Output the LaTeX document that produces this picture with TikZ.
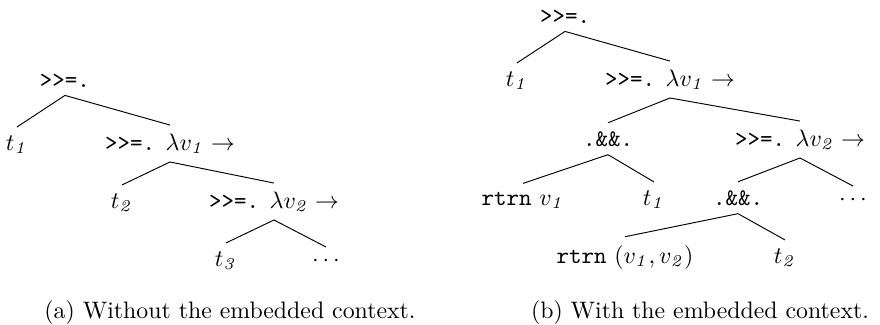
\documentclass[tikz,border=0pt]{standalone}
\usepackage{tikz}
\usetikzlibrary{positioning}

\newcommand{\bind}{\texttt{>>=.}}
\newcommand{\both}{\texttt{.\&\&.}}
\newcommand{\rtrn}{\texttt{rtrn}}
\newcommand{\lam}[1]{$\lambda v_{\mathit{#1}} \rightarrow$}

\begin{document}
\begin{tikzpicture}[
    x=0.42pt, y=-0.42pt,
    term/.style={anchor=base},
    branch/.style={draw=black, line width=0.4pt},
    caption/.style={anchor=base}
]
\useasboundingbox (0,0) rectangle (880,325);

% (a) without the embedded context
\node[term] (a0) at (65,87) {\bind};
\node[term] (a1) at (17,150) {$t_{\mathit{1}}$};
\node[term] (a2) at (170,150) {\bind{} \lam{1}};
\node[term] (a3) at (122,208) {$t_{\mathit{2}}$};
\node[term] (a4) at (274,208) {\bind{} \lam{2}};
\node[term] (a5) at (226,266) {$t_{\mathit{3}}$};
\node[term] (a6) at (326,266) {$\cdots$};

\draw[branch] (a0.south) -- (a1.north);
\draw[branch] (a0.south) -- (a2.north);
\draw[branch] (a2.south) -- (a3.north);
\draw[branch] (a2.south) -- (a4.north);
\draw[branch] (a4.south) -- (a5.north);
\draw[branch] (a4.south) -- (a6.north);

% (b) with the embedded context
\node[term] (b0) at (565,23) {\bind};
\node[term] (b1) at (517,86) {$t_{\mathit{1}}$};
\node[term] (b2) at (670,86) {\bind{} \lam{1}};
\node[term] (b3) at (608,146) {\both};
\node[term] (b4) at (800,146) {\bind{} \lam{2}};
\node[term] (b5) at (523,205) {\rtrn{} $v_{\mathit{1}}$};
\node[term] (b6) at (654,205) {$t_{\mathit{1}}$};
\node[term] (b7) at (738,205) {\both};
\node[term] (b8) at (853,205) {$\cdots$};
\node[term] (b9) at (625,263) {\rtrn{} $(v_{\mathit{1}}, v_{\mathit{2}})$};
\node[term] (b10) at (785,263) {$t_{\mathit{2}}$};

\draw[branch] (b0.south) -- (b1.north);
\draw[branch] (b0.south) -- (b2.north);
\draw[branch] (b2.south) -- (b3.north);
\draw[branch] (b2.south) -- (b4.north);
\draw[branch] (b3.south) -- (b5.north);
\draw[branch] (b3.south) -- (b6.north);
\draw[branch] (b4.south) -- (b7.north);
\draw[branch] (b4.south) -- (b8.north);
\draw[branch] (b7.south) -- (b9.north);
\draw[branch] (b7.south) -- (b10.north);

% captions
\node[caption] (capa) at (230,318) {(a) Without the embedded context.};
\node[caption] (capb) at (700,318) {(b) With the embedded context.};
\end{tikzpicture}
\end{document}
